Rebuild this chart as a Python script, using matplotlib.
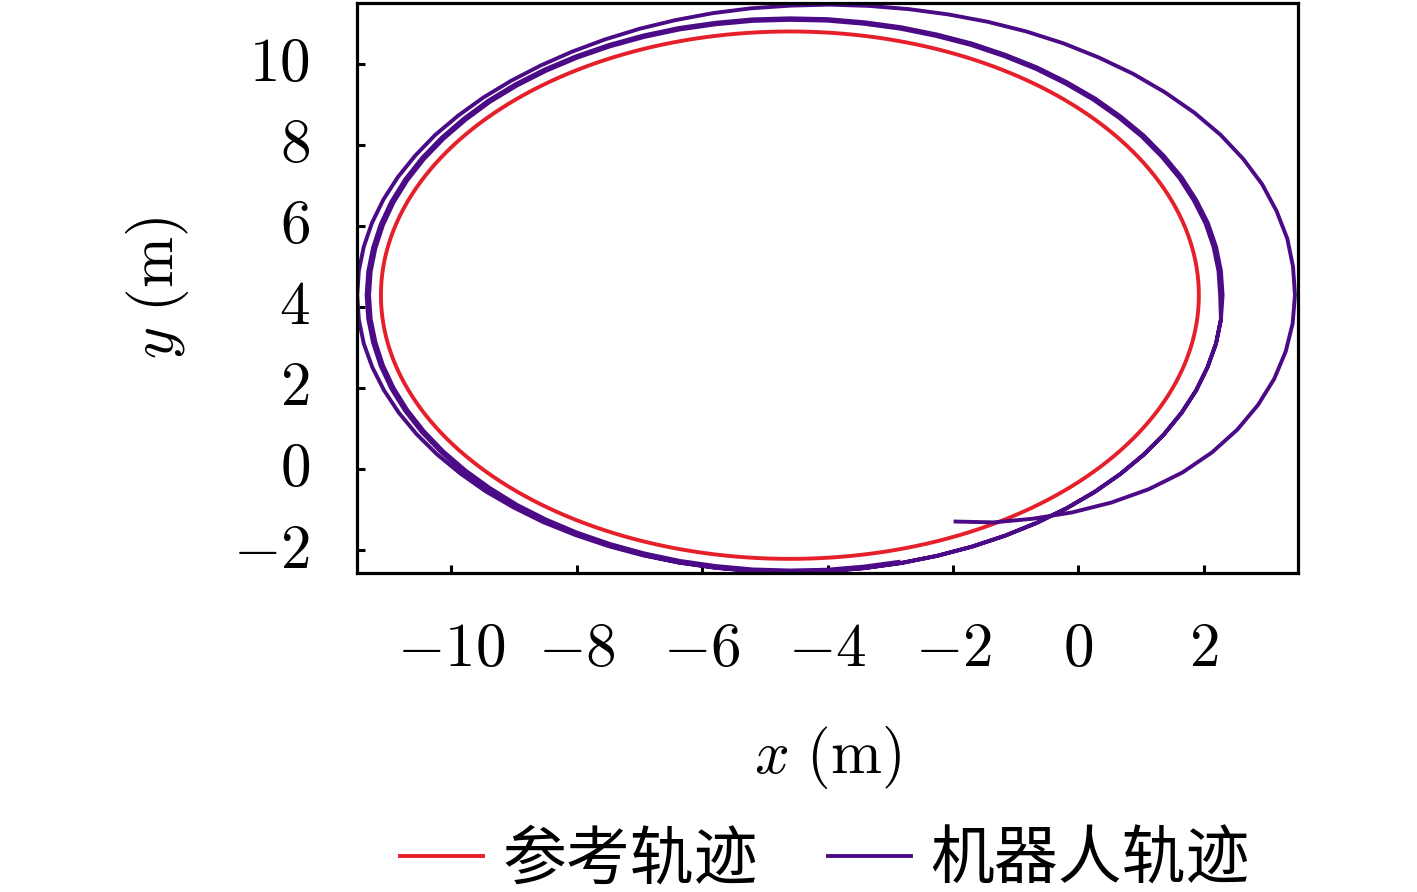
import numpy as np
import matplotlib
matplotlib.use("Agg")
import matplotlib.pyplot as plt
from matplotlib.lines import Line2D

plt.rcParams['mathtext.fontset'] = 'cm'
plt.rcParams['font.family'] = ['Noto Sans CJK SC', 'DejaVu Sans']

# ---- data ----
x_ticks = [-10, -8, -6, -4, -2, 0, 2]
y_ticks = [-2, 0, 2, 4, 6, 8, 10]
x_limits = (-11.5, 3.5)
y_limits = (-2.55, 11.5)

# reference trajectory: circle (center, radii in data units)
ref_center_x = -4.6
ref_center_y = 4.29
ref_radius_x = 6.52
ref_radius_y = 6.5

# robot trajectory, read in polar form around the reference centre:
# angle (deg, every 5 deg) and radius relative to the reference circle
robot_angle_loop1 = list(range(-65, 360, 5))
robot_radius_loop1 = [
    0.947, 0.995, 1.035, 1.075, 1.112, 1.145, 1.172, 1.192, 1.207, 1.218, 1.226, 1.231, 1.234,
    1.235, 1.235, 1.235, 1.232, 1.229, 1.223, 1.216, 1.207, 1.197, 1.187, 1.176, 1.166, 1.155,
    1.144, 1.133, 1.123, 1.114, 1.106, 1.098, 1.092, 1.086, 1.080, 1.075, 1.070, 1.066, 1.063,
    1.061, 1.060, 1.059, 1.059, 1.058,
    1.058, 1.058, 1.058, 1.058, 1.058, 1.058, 1.058, 1.058,
    1.057, 1.056, 1.055, 1.054, 1.053, 1.052, 1.052, 1.051, 1.051, 1.050,
    1.050, 1.050, 1.050, 1.050, 1.050, 1.050, 1.050,
    1.051, 1.051, 1.052, 1.052, 1.053, 1.053, 1.054, 1.054, 1.055, 1.055, 1.056, 1.056,
    1.057, 1.057, 1.058, 1.058]
robot_angle_loop2 = list(range(360, 720, 5))
robot_radius_loop2 = [
    1.058, 1.058, 1.058, 1.058, 1.057, 1.057, 1.056, 1.056, 1.055, 1.055, 1.054, 1.054,
    1.053, 1.053, 1.052, 1.052, 1.051, 1.051, 1.050, 1.050, 1.049, 1.049, 1.048, 1.047,
    1.046, 1.045, 1.044, 1.043, 1.041, 1.040, 1.039, 1.038, 1.037, 1.036, 1.035, 1.035,
    1.035, 1.035, 1.035, 1.036, 1.037, 1.038, 1.039, 1.040, 1.041, 1.042, 1.044, 1.045,
    1.046, 1.047, 1.048, 1.049, 1.049, 1.050, 1.050, 1.051, 1.051, 1.052, 1.052, 1.053,
    1.053, 1.054, 1.054, 1.055, 1.055, 1.056, 1.056, 1.057, 1.057, 1.057, 1.058, 1.058]
robot_angle_loop3 = list(range(720, 1010, 5))
robot_radius_loop3 = [
    1.052, 1.052, 1.052, 1.052, 1.051, 1.051, 1.050, 1.050, 1.049, 1.049, 1.048, 1.048,
    1.047, 1.047, 1.046, 1.046, 1.045, 1.045, 1.044, 1.044, 1.043, 1.043, 1.042, 1.041,
    1.040, 1.039, 1.038, 1.037, 1.035, 1.034, 1.033, 1.032, 1.031, 1.030, 1.029, 1.029,
    1.029, 1.029, 1.029, 1.030, 1.031, 1.032, 1.033, 1.034, 1.035, 1.036, 1.038, 1.039,
    1.040, 1.041, 1.042, 1.043, 1.043, 1.044, 1.044, 1.045, 1.045, 1.046]

legend_labels = ['参考轨迹', '机器人轨迹']
ref_color = '#e5202b'
robot_color = '#4b0a86'

# ---- geometry ----
theta = np.linspace(0, 2 * np.pi, 721)
ref_x = ref_center_x + ref_radius_x * np.cos(theta)
ref_y = ref_center_y + ref_radius_y * np.sin(theta)

ang = np.deg2rad(np.array(robot_angle_loop1 + robot_angle_loop2 + robot_angle_loop3, float))
rad = np.array(robot_radius_loop1 + robot_radius_loop2 + robot_radius_loop3)
rob_x = ref_center_x + ref_radius_x * rad * np.cos(ang)
rob_y = ref_center_y + ref_radius_y * rad * np.sin(ang)

# ---- figure ----
fig = plt.figure(figsize=(14.17, 8.92), dpi=100)
ax = fig.add_axes([0.252, 0.358, 0.664, 0.639])

ax.plot(ref_x, ref_y, color=ref_color, lw=2.8, solid_capstyle='butt')
ax.plot(rob_x, rob_y, color=robot_color, lw=2.8, solid_capstyle='butt',
        solid_joinstyle='round')

ax.set_xlim(*x_limits)
ax.set_ylim(*y_limits)
ax.set_xticks(x_ticks)
ax.set_yticks(y_ticks)
ax.set_xticklabels([f'${v}$' for v in x_ticks])
ax.set_yticklabels([f'${v}$' for v in y_ticks], va='center')
ax.tick_params(direction='in', length=6, width=2.2, labelsize=44, top=False, right=False)
ax.tick_params(axis='x', pad=32)
ax.tick_params(axis='y', pad=34)
for s in ax.spines.values():
    s.set_linewidth(2.3)

ax.set_xlabel(r'$x\ (\mathrm{m})$', fontsize=44)
ax.set_ylabel(r'$y\ (\mathrm{m})$', fontsize=44)
ax.xaxis.set_label_coords(0.5, -0.265)
ax.yaxis.set_label_coords(-0.176, 0.5)

handles = [Line2D([], [], color=ref_color, lw=2.8),
           Line2D([], [], color=robot_color, lw=2.8)]
fig.legend(handles, legend_labels, loc='center', bbox_to_anchor=(0.582, 0.036), ncol=2,
           frameon=False, fontsize=46, handlelength=1.3, handletextpad=0.3,
           columnspacing=1.1, borderpad=0, borderaxespad=0)

fig.savefig('out.png', dpi=100)
